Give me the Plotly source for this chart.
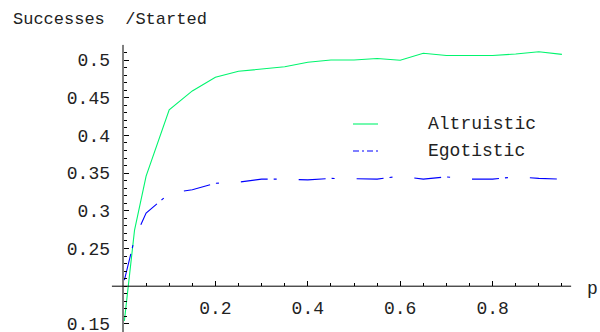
import plotly.graph_objects as go

# ---- data ----
p_vals = [0.003, 0.025, 0.05, 0.1, 0.15, 0.2, 0.25, 0.3, 0.35, 0.4, 0.45,
          0.5, 0.55, 0.6, 0.65, 0.7, 0.75, 0.8, 0.85, 0.9, 0.95]
altruistic = [0.154, 0.2745, 0.346, 0.434, 0.459, 0.477, 0.485, 0.488, 0.491,
              0.497, 0.500, 0.500, 0.502, 0.4997, 0.509, 0.506, 0.506, 0.506,
              0.508, 0.511, 0.5075]
egotistic = [0.208, 0.263, 0.297, 0.323, 0.328, 0.3365, 0.338, 0.342, 0.342,
             0.341, 0.343, 0.342, 0.342, 0.346, 0.342, 0.345, 0.342, 0.342,
             0.345, 0.343, 0.342]

series_names = ["Altruistic", "Egotistic"]
y_major = [0.15, 0.25, 0.3, 0.35, 0.4, 0.45, 0.5]
y_minor = [round(0.14 + 0.01 * i, 2) for i in range(38)]
x_major = [0.2, 0.4, 0.6, 0.8]
x_minor = [round(0.05 * i, 2) for i in range(1, 20)]
axis_label_y = "Successes\u00a0\u00a0/Started"
axis_label_x = "p"

W, H = 600, 332
OFF = 0  # body margin removed via post_script
# target screen pixel mapping: p=0 at x=123, 462 px per unit; y=0.5 at 60, 754 px per unit
X0_PX, X_SCALE = 123 - OFF, 462.0
Y05_PX, Y_SCALE = 60 - OFF, 754.0
X_RANGE = [-X0_PX / X_SCALE, (W - X0_PX) / X_SCALE]
Y_RANGE = [0.5 - (H - Y05_PX) / Y_SCALE, 0.5 + Y05_PX / Y_SCALE]
X_CROSS = 0.2   # x-axis drawn at y = 0.2
FONT = "Liberation Mono, Courier New, monospace"
GREEN = "rgb(0,245,110)"
BLUE = "rgb(0,0,255)"

def px_x(v):
    return (v - X_RANGE[0]) / (X_RANGE[1] - X_RANGE[0])

def px_y(v):
    return (v - Y_RANGE[0]) / (Y_RANGE[1] - Y_RANGE[0])

def sx(px):   # screen px -> paper x
    return (px - OFF) / W

def sy(py):   # screen px -> paper y
    return 1 - (py - OFF) / H

fig = go.Figure()
fig.add_trace(go.Scatter(x=p_vals, y=altruistic, mode="lines", name=series_names[0],
                         line=dict(color=GREEN, width=1.1), showlegend=False))
fig.add_trace(go.Scatter(x=p_vals, y=egotistic, mode="lines", name=series_names[1],
                         line=dict(color=BLUE, width=1.1, dash="27px,6px,3px,22px"),
                         showlegend=False))

tickfont = dict(family=FONT, size=18, color="#222")

fig.update_layout(
    width=W, height=H,
    margin=dict(l=0, r=0, t=0, b=0, autoexpand=False),
    paper_bgcolor="white", plot_bgcolor="white",
    xaxis=dict(range=X_RANGE, showgrid=False, zeroline=False, showline=False,
               automargin=False, ticklabeloverflow="allow",
               anchor="free", position=px_y(X_CROSS), side="bottom",
               tickmode="array", tickvals=x_major, ticktext=[str(v) for v in x_major],
               ticks="inside", ticklen=5, tickwidth=1, tickcolor="black",
               ticklabelstandoff=9, tickfont=tickfont,
               minor=dict(tickmode="array", tickvals=x_minor, ticks="inside",
                          ticklen=3, tickwidth=1, tickcolor="black")),
    yaxis=dict(range=Y_RANGE, showgrid=False, zeroline=False, showline=False,
               automargin=False, ticklabeloverflow="allow",
               anchor="free", position=px_x(0), side="left",
               tickmode="array", tickvals=y_major, ticktext=[str(v) for v in y_major],
               ticks="inside", ticklen=5, tickwidth=1, tickcolor="black",
               ticklabelstandoff=13, tickfont=tickfont,
               minor=dict(tickmode="array", tickvals=y_minor, ticks="inside",
                          ticklen=3, tickwidth=1, tickcolor="black")),
    shapes=[
        dict(type="line", xref="x", yref="y", x0=0, x1=0, y0=Y_RANGE[0], y1=0.52,
             line=dict(color="black", width=1)),
        dict(type="line", xref="x", yref="y", x0=-0.024, x1=0.97, y0=X_CROSS, y1=X_CROSS,
             line=dict(color="black", width=1)),
        # legend keys
        dict(type="line", xref="paper", yref="paper", x0=sx(353), x1=sx(378),
             y0=sy(124), y1=sy(124), line=dict(color=GREEN, width=1.1)),
        dict(type="line", xref="paper", yref="paper", x0=sx(353), x1=sx(378),
             y0=sy(151), y1=sy(151),
             line=dict(color=BLUE, width=1.1, dash="6px,3px,2px,3px")),
    ],
    annotations=[
        dict(text=axis_label_y, xref="paper", yref="paper", x=sx(11), y=sy(19),
             xanchor="left", yanchor="middle", showarrow=False,
             font=dict(family=FONT, size=17, color="#222")),
        dict(text=axis_label_x, xref="paper", yref="paper", x=sx(592), y=sy(289),
             xanchor="center", yanchor="middle", showarrow=False,
             font=dict(family=FONT, size=18, color="#222")),
        dict(text=series_names[0], xref="paper", yref="paper", x=sx(426), y=sy(124),
             xanchor="left", yanchor="middle", showarrow=False,
             font=dict(family=FONT, size=18, color="#222")),
        dict(text=series_names[1], xref="paper", yref="paper", x=sx(426), y=sy(151),
             xanchor="left", yanchor="middle", showarrow=False,
             font=dict(family=FONT, size=18, color="#222")),
    ],
)

fig.write_html(
    "out.html",
    config={"displayModeBar": False},
    post_script="document.body.style.margin='0';document.body.style.overflow='hidden';",
)
